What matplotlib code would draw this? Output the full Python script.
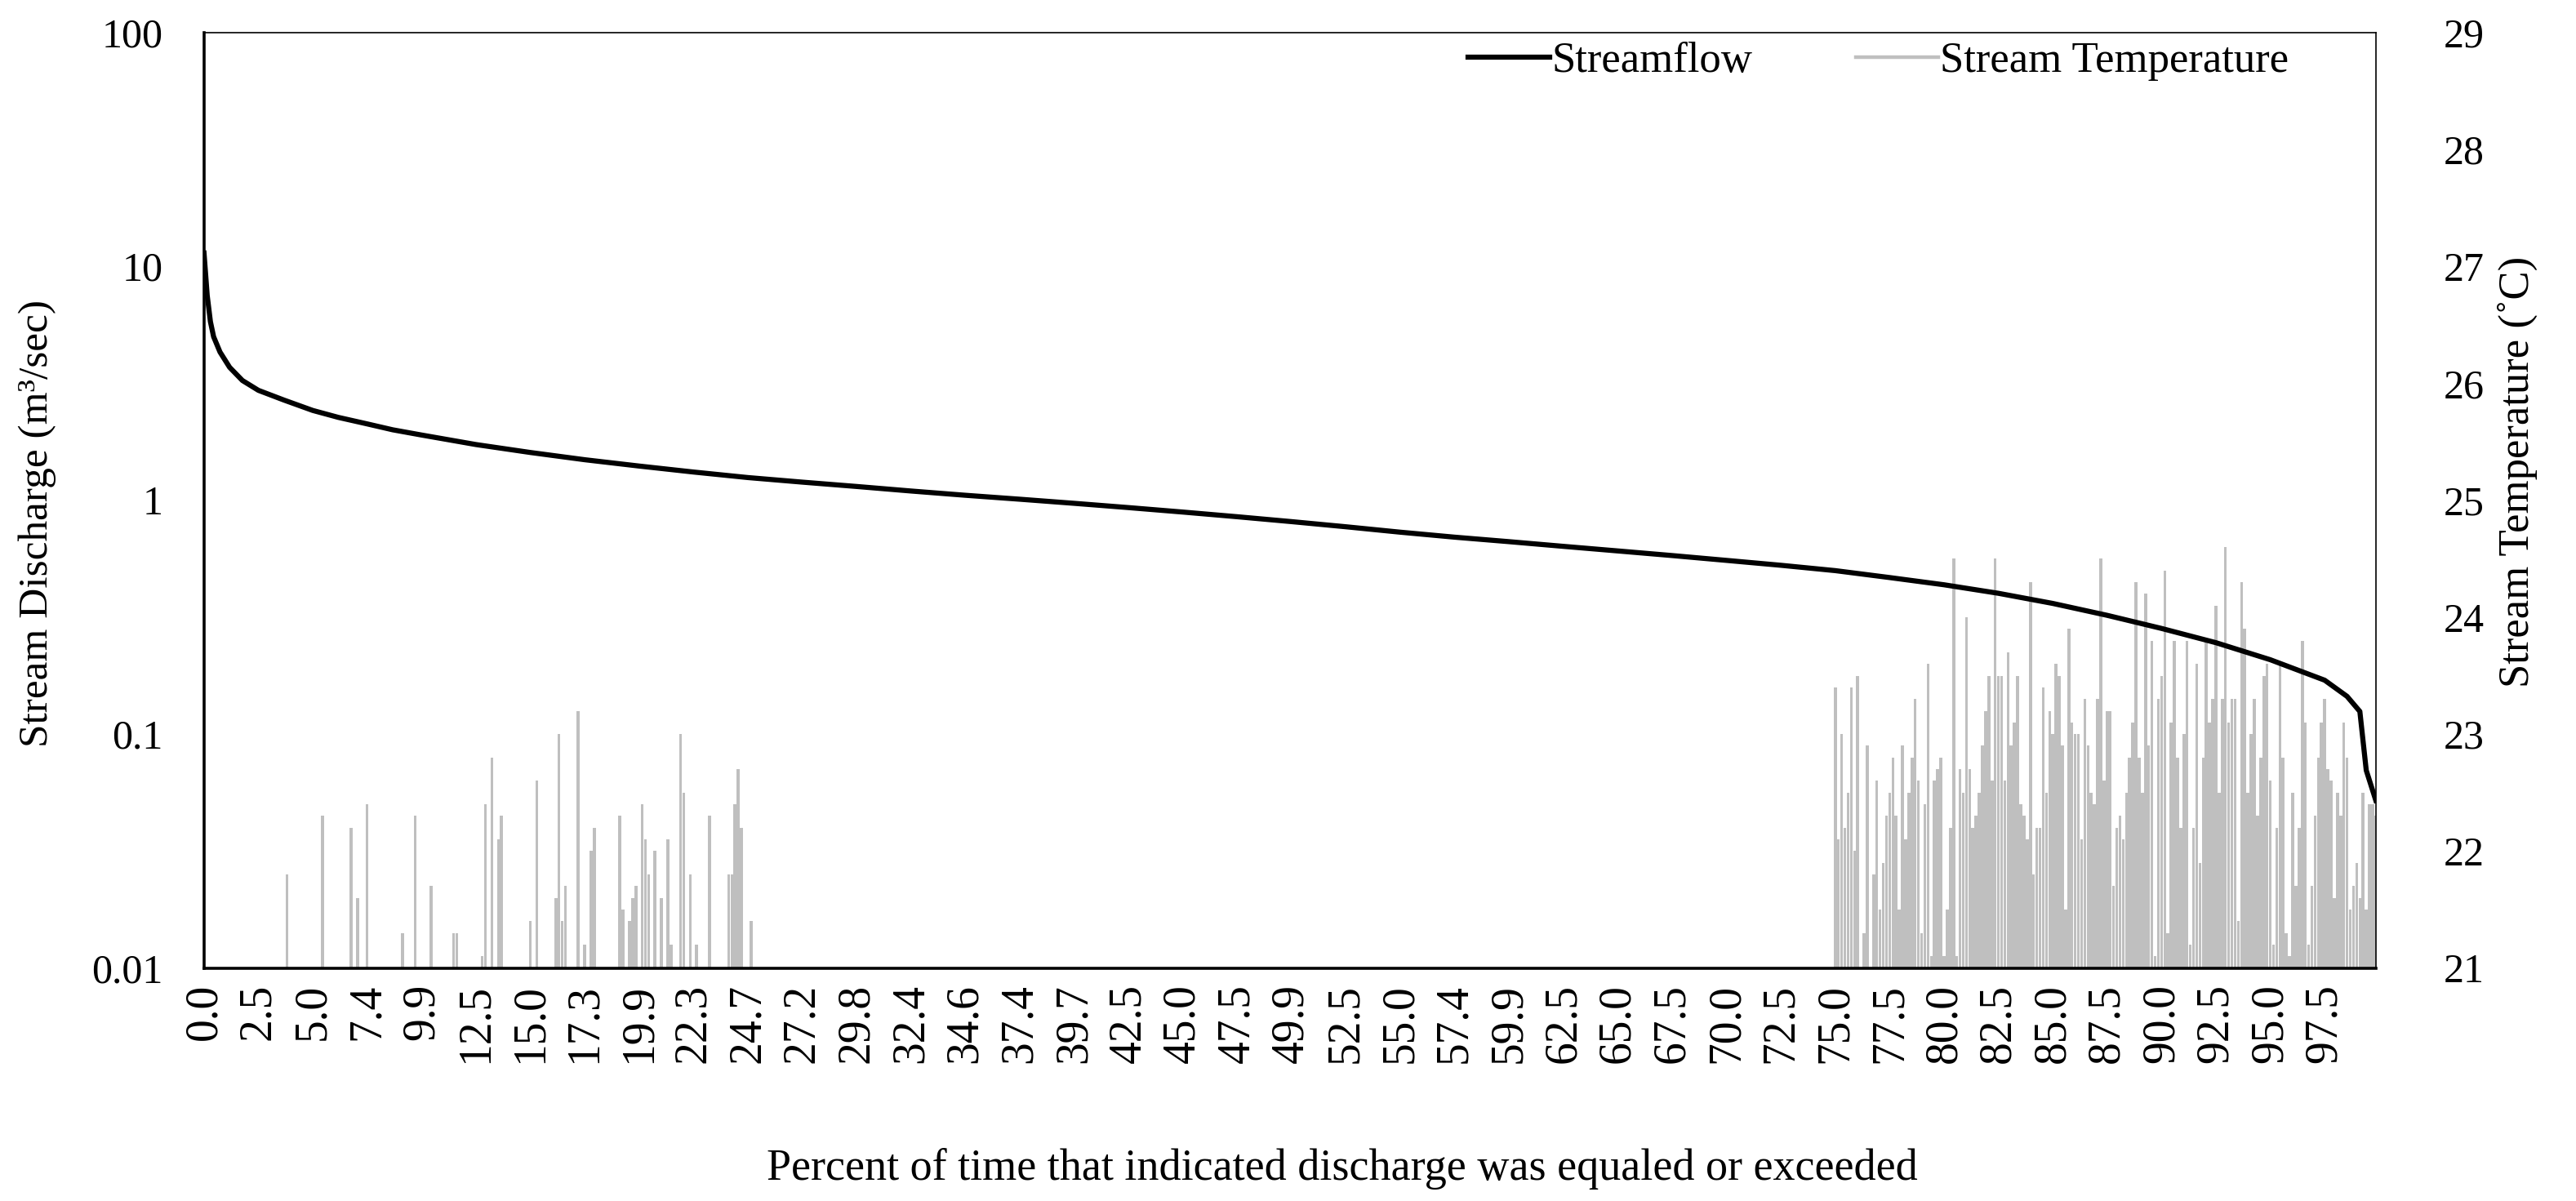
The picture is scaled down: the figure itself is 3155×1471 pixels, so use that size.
import numpy as np
import matplotlib
matplotlib.use("Agg")
import matplotlib.pyplot as plt
from matplotlib.lines import Line2D

plt.rcParams["font.family"] = ["Liberation Serif", "DejaVu Serif"]

# -----------------------------
# data (category axis: 680 ranked days, labels every 17th)
# -----------------------------
n_points = 680
x_labels = ["0.0", "2.5", "5.0", "7.4", "9.9", "12.5", "15.0", "17.3", "19.9", "22.3",
            "24.7", "27.2", "29.8", "32.4", "34.6", "37.4", "39.7", "42.5", "45.0", "47.5",
            "49.9", "52.5", "55.0", "57.4", "59.9", "62.5", "65.0", "67.5", "70.0", "72.5",
            "75.0", "77.5", "80.0", "82.5", "85.0", "87.5", "90.0", "92.5", "95.0", "97.5"]
label_step = 17

flow_idx = [0, 1, 2, 3, 5, 8, 12, 17, 25, 34, 42, 51, 59, 68, 85, 102, 119, 136, 153, 170,
            187, 204, 221, 238, 255, 272, 289, 306, 323, 340, 357, 374, 391, 408, 425, 442,
            459, 476, 493, 510, 527, 544, 561, 578, 595, 612, 629, 646, 663, 670, 674, 676, 679]
flow_val = [11.4, 7.5, 5.8, 5.0, 4.3, 3.7, 3.25, 2.95, 2.68, 2.42, 2.26, 2.12, 2.0, 1.90,
            1.73, 1.60, 1.49, 1.40, 1.32, 1.25, 1.195, 1.145, 1.095, 1.05, 1.01, 0.97, 0.93,
            0.89, 0.85, 0.81, 0.77, 0.73, 0.695, 0.665, 0.635, 0.607, 0.58, 0.553, 0.527,
            0.50, 0.467, 0.435, 0.40, 0.362, 0.322, 0.283, 0.246, 0.208, 0.17, 0.145, 0.125,
            0.07, 0.052]

# temperature, sparse part (early ranks)
sparse_idx = [26, 37, 46, 48, 51, 62, 66, 71, 78, 79, 87, 88, 90, 92, 93, 102, 104, 110, 111,
              112, 113, 117, 119, 121, 122, 130, 131, 133, 134, 135, 137, 138, 139, 141, 143,
              145, 146, 149, 150, 152, 154, 158, 164, 165, 166, 167, 168, 171]
sparse_temp = [21.8, 22.3, 22.2, 21.6, 22.4, 21.3, 22.3, 21.7, 21.3, 21.3, 21.1, 22.4, 22.8,
               22.1, 22.3, 21.4, 22.6, 21.6, 23.0, 21.4, 21.7, 23.2, 21.2, 22.0, 22.2, 22.3,
               21.5, 21.4, 21.6, 21.7, 22.4, 22.1, 21.8, 22.0, 21.6, 22.1, 21.2, 23.0, 22.5,
               21.8, 21.2, 22.3, 21.8, 21.8, 22.4, 22.7, 22.2, 21.4]

# temperature, dense part (ranks 510..679)
dense_start = 510
dense_temp = [23.4, 22.1, 23.0, 22.2, 22.5, 23.4, 22.0, 23.5, 21.0, 21.3,
              22.9, 21.0, 21.8, 22.6, 21.5, 21.9, 22.3, 22.5, 22.8, 22.3,
              21.5, 22.9, 22.1, 22.5, 22.8, 23.3, 22.6, 21.3, 22.4, 23.6,
              21.1, 22.6, 22.7, 22.8, 21.1, 21.5, 22.2, 24.5, 21.1, 22.7,
              22.5, 24.0, 22.7, 22.2, 22.3, 22.5, 22.9, 23.2, 23.5, 22.6,
              24.5, 23.5, 23.5, 22.6, 23.7, 22.9, 23.1, 23.5, 22.4, 22.3,
              22.1, 24.3, 21.8, 22.2, 22.2, 23.4, 22.5, 23.2, 23.0, 23.6,
              23.5, 22.9, 21.5, 23.9, 23.1, 23.0, 23.0, 22.1, 23.3, 22.9,
              22.5, 22.4, 23.3, 24.5, 22.6, 23.2, 23.2, 21.7, 22.2, 22.3,
              22.1, 22.5, 22.8, 23.1, 24.3, 22.8, 22.5, 24.2, 22.9, 23.8,
              21.1, 23.3, 23.5, 24.4, 21.3, 23.1, 23.8, 22.8, 22.2, 23.0,
              23.8, 21.2, 22.2, 23.6, 21.9, 22.8, 23.8, 23.1, 23.3, 24.1,
              22.5, 23.3, 24.6, 23.1, 23.3, 23.3, 21.4, 24.3, 23.9, 22.5,
              23.0, 23.3, 22.3, 22.8, 23.5, 23.6, 22.6, 21.2, 22.2, 23.6,
              22.8, 21.3, 21.1, 22.5, 21.7, 22.2, 23.8, 23.1, 21.2, 21.7,
              22.3, 22.8, 23.1, 23.3, 22.7, 22.6, 21.6, 22.5, 22.3, 23.1,
              22.8, 21.5, 21.7, 21.9, 21.6, 22.5, 21.5, 22.4, 22.4, 22.3]

temp_idx = sparse_idx + list(range(dense_start, dense_start + len(dense_temp)))
temp_val = sparse_temp + dense_temp

# -----------------------------
# figure
# -----------------------------
fig = plt.figure(figsize=(31.55, 14.71), dpi=100)
ax = fig.add_axes([0.0792, 0.194, 0.8431, 0.779])
ax2 = ax.twinx()

ax2.bar(temp_idx, np.array(temp_val) - 21, bottom=21, width=0.9, color="#BFBFBF", linewidth=0)
ax2.set_ylim(21, 29)
ax2.set_yticks(range(21, 30))
ax2.set_ylabel("Stream Temperature (˚C)", fontsize=38)
ax2.yaxis.set_label_coords(1.056, 0.53)

ax.plot(flow_idx, flow_val, color="black", lw=4.5, solid_joinstyle="round")
ax.set_yscale("log")
ax.set_ylim(0.01, 100)
ax.set_yticks([0.01, 0.1, 1, 10, 100])
ax.set_yticklabels(["0.01", "0.1", "1", "10", "100"])
ax.minorticks_off()
ax.set_xlim(0, n_points - 1)
ax.set_xticks(range(0, label_step * len(x_labels), label_step))
ax.set_xticklabels(x_labels, rotation=90)
ax.set_ylabel("Stream Discharge (m³/sec)", fontsize=37)
ax.yaxis.set_label_coords(-0.068, 0.475)
ax.set_xlabel("Percent of time that indicated discharge was equaled or exceeded", fontsize=39)
ax.xaxis.set_label_coords(0.524, -0.192)

# line above bars
ax.set_zorder(ax2.get_zorder() + 1)
ax.patch.set_visible(False)

ax.tick_params(length=0)
ax2.tick_params(length=0)
ax.tick_params(axis="y", labelsize=36, pad=36)
ax.tick_params(axis="x", labelsize=40, pad=14)
ax2.tick_params(axis="y", labelsize=36, pad=60)

for s in ax2.spines.values():
    s.set_visible(False)
ax.spines["left"].set_linewidth(2.6)
ax.spines["bottom"].set_linewidth(2.6)
ax.spines["top"].set_linewidth(1.2)
ax.spines["right"].set_linewidth(1.2)

handles = [Line2D([], [], color="black", lw=4.5),
           Line2D([], [], color="#BFBFBF", lw=3.2)]
ax.legend(handles, ["Streamflow", "Stream Temperature"], loc="upper right",
          bbox_to_anchor=(0.960, 0.99), ncol=2, frameon=False, fontsize=38,
          handlelength=1.9, handletextpad=0.05, columnspacing=2.4,
          borderaxespad=0, borderpad=0)

fig.savefig("out.png", dpi=100)
